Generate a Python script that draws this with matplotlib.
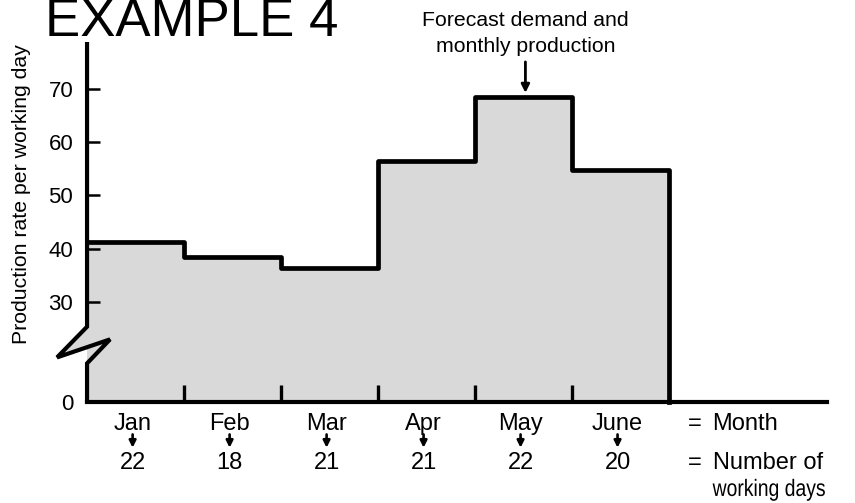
import numpy as np
import matplotlib
matplotlib.use("Agg")
import matplotlib.pyplot as plt
from matplotlib.font_manager import FontProperties
from matplotlib.patches import PathPatch
from matplotlib.textpath import TextPath
from matplotlib.transforms import Affine2D, ScaledTranslation

plt.rcParams["font.family"] = ["Liberation Sans", "DejaVu Sans"]

# production rate per working day, one level per month
months = ["Jan", "Feb", "Mar", "Apr", "May", "June"]
rate_per_day = [41.2, 38.5, 36.3, 56.4, 68.5, 54.7]
working_days = [22, 18, 21, 21, 22, 20]
ytick_values = [0, 30, 40, 50, 60, 70]

# broken y axis: 0..30 is squeezed, above 30 runs 1:1
BREAK_AT = 30.0
SQUEEZED = 18.8
K = SQUEEZED / BREAK_AT


def fwd(v):
    v = np.asarray(v, float)
    return np.where(v < BREAK_AT, v * K, v - BREAK_AT + SQUEEZED)


def inv(u):
    u = np.asarray(u, float)
    return np.where(u < SQUEEZED, u / K, u + BREAK_AT - SQUEEZED)


fig = plt.figure(figsize=(8.55, 5.03), dpi=100)
ax = fig.add_axes([0.1018, 0.2014, 0.8655, 0.7151])
ax.set_yscale("function", functions=(fwd, inv))
ax.set_xlim(0, 7.63)
ax.set_ylim(0, 78.85)

edges = np.arange(len(months) + 1)
levels = np.array(rate_per_day)
gray = "#d9d9d9"

# shaded area under the monthly levels
ax.fill_between(edges, np.r_[levels, levels[-1]], 0, step="post",
                color=gray, lw=0, zorder=1)
ax.step(np.r_[edges, edges[-1]], np.r_[levels, levels[-1], 0], where="post",
        color="black", lw=3.4, zorder=4, clip_on=False)

# left axis drawn by hand so it can carry the zigzag break
zig_x = [0, 0, 0.237, -0.309, 0, 0]
zig_y = [0, 11.5, 18.7, 13.3, 22.5, 78.85]
t = (0 - zig_x[3]) / (zig_x[2] - zig_x[3])
e_y = zig_y[3] + t * (zig_y[2] - zig_y[3])
ax.fill([0, zig_x[3], 0], [zig_y[4], zig_y[3], e_y], color=gray, lw=0,
        zorder=1, clip_on=False)
ax.plot(zig_x, zig_y, color="black", lw=3.0, zorder=5, clip_on=False,
        solid_joinstyle="miter", solid_capstyle="butt")

for side in ("left", "top", "right"):
    ax.spines[side].set_visible(False)
ax.spines["bottom"].set_linewidth(3.0)
ax.spines["bottom"].set_zorder(5)

ax.set_yticks(ytick_values)
ax.set_yticklabels([str(v) for v in ytick_values])
ax.yaxis.set_minor_locator(matplotlib.ticker.NullLocator())
ax.tick_params(axis="y", direction="in", length=9.4, width=1.8,
               labelsize=16, pad=10)

ax.set_xticks(edges[1:-1])
ax.set_xticklabels([])
ax.tick_params(axis="x", which="major", direction="in", length=12.2,
               width=2.4)
centers = edges[:-1] + 0.47
ax.set_xticks(centers, minor=True)
ax.set_xticklabels(months, minor=True)
ax.tick_params(axis="x", which="minor", length=0, labelsize=17, pad=8)

trans = ax.get_xaxis_transform()
for x, n in zip(centers, working_days):
    ax.annotate("", xy=(x, -0.128), xytext=(x, -0.091), xycoords=trans,
                textcoords=trans,
                arrowprops=dict(arrowstyle="-|>", lw=1.9, color="black",
                                mutation_scale=10, shrinkA=0, shrinkB=0))
    ax.text(x, -0.187, str(n), transform=trans, ha="center", va="baseline",
            fontsize=17)

ax.text(6.27, -0.079, "=", transform=trans, ha="center", va="baseline",
        fontsize=17)
ax.text(6.45, -0.079, "Month", transform=trans, ha="left", va="baseline",
        fontsize=17)
ax.text(6.27, -0.187, "=", transform=trans, ha="center", va="baseline",
        fontsize=17)
ax.text(6.45, -0.187, "Number of", transform=trans, ha="left",
        va="baseline", fontsize=17)

# second line is set condensed, as a glyph path squeezed horizontally
wd_path = TextPath((0, 0), "working days", size=17,
                   prop=FontProperties(family="Liberation Sans"))
wd_tf = (Affine2D().scale(0.82 * fig.dpi / 72, fig.dpi / 72)
         + ScaledTranslation(6.45, -0.262, trans))
ax.add_patch(PathPatch(wd_path, facecolor="black", lw=0, transform=wd_tf,
                       clip_on=False))

# callout over the peak month
peak = int(np.argmax(levels))
px = peak + 0.52
ax.annotate("", xy=(px, levels[peak]), xytext=(0, 25.3),
            textcoords="offset points",
            arrowprops=dict(arrowstyle="-|>", lw=2.0, color="black",
                            mutation_scale=12, shrinkA=0, shrinkB=3))
ax.text(px, 1.0445, "Forecast demand and", transform=trans, ha="center",
        va="baseline", fontsize=15.3)
ax.text(px, 0.972, "monthly production", transform=trans, ha="center",
        va="baseline", fontsize=15.3)

fig.text(0.0257, 0.614, "Production rate per working day", rotation=90,
         ha="center", va="center", fontsize=15.3)
fig.text(0.0526, 0.929, "EXAMPLE 4", ha="left", va="baseline", fontsize=38)

fig.savefig("out.png", dpi=100)
